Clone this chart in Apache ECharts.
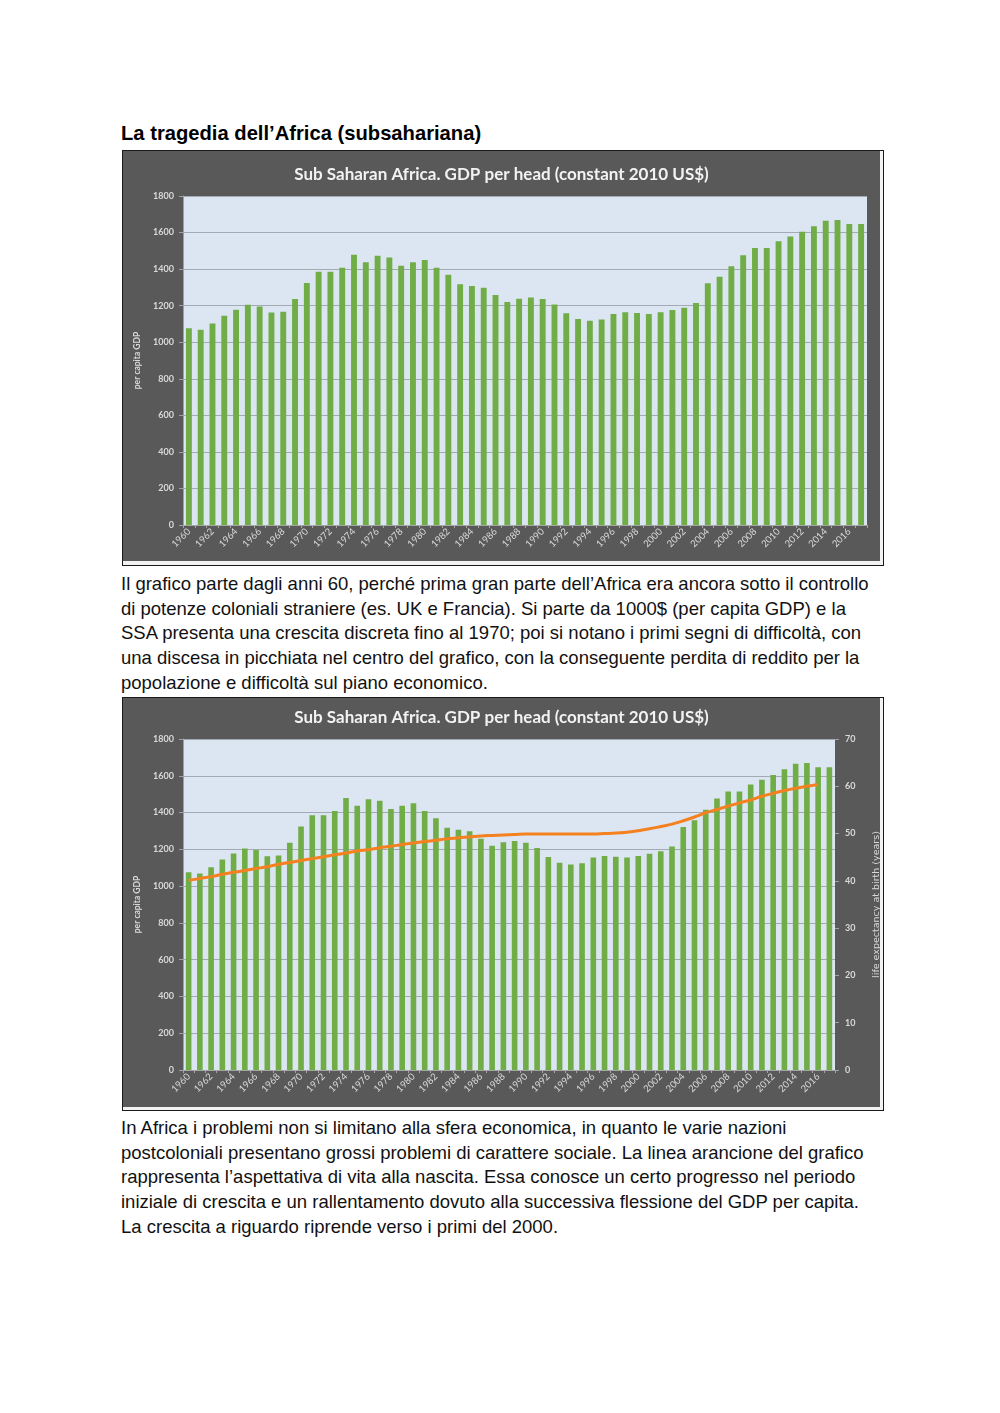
<!DOCTYPE html>
<html>
<head>
<meta charset="utf-8">
<script src="https://cdn.jsdelivr.net/npm/echarts/dist/echarts.min.js"></script>
<style>
  html, body { margin: 0; padding: 0; background: #ffffff; }
  body { width: 1000px; height: 1413px; position: relative; overflow: hidden; }
  .h { position: absolute; left: 121px; top: 121px; font-family: "Liberation Sans", Arial, sans-serif; font-weight: bold; font-size: 20.2px; line-height: 24px; color: #000; white-space: nowrap; }
  .p { position: absolute; left: 121px; font-family: "Liberation Sans", Arial, sans-serif; font-size: 18.5px; line-height: 24.7px; color: #111; white-space: nowrap; }
  .frame { position: absolute; left: 122px; width: 760px; border: 1px solid #1a1a1a; background: #f2f2f2; }
  .chart { position: absolute; left: 0; top: 0; background: #595959; }
</style>
</head>
<body>
<div class="h">La tragedia dell’Africa (subsahariana)</div>
<div class="frame" style="top:150px;height:414px;"><div id="c1" class="chart" style="width:757px;height:410px;"></div></div>
<div class="p" style="top:572px;">Il grafico parte dagli anni 60, perché prima gran parte dell’Africa era ancora sotto il controllo<br>di potenze coloniali straniere (es. UK e Francia). Si parte da 1000$ (per capita GDP) e la<br>SSA presenta una crescita discreta fino al 1970; poi si notano i primi segni di difficoltà, con<br>una discesa in picchiata nel centro del grafico, con la conseguente perdita di reddito per la<br>popolazione e difficoltà sul piano economico.</div>
<div class="frame" style="top:697px;height:412px;"><div id="c2" class="chart" style="width:757px;height:409px;"></div></div>
<div class="p" style="top:1116px;">In Africa i problemi non si limitano alla sfera economica, in quanto le varie nazioni<br>postcoloniali presentano grossi problemi di carattere sociale. La linea arancione del grafico<br>rappresenta l’aspettativa di vita alla nascita. Essa conosce un certo progresso nel periodo<br>iniziale di crescita e un rallentamento dovuto alla successiva flessione del GDP per capita.<br>La crescita a riguardo riprende verso i primi del 2000.</div>
<script>
const years = ["1960","1961","1962","1963","1964","1965","1966","1967","1968","1969",
  "1970","1971","1972","1973","1974","1975","1976","1977","1978","1979",
  "1980","1981","1982","1983","1984","1985","1986","1987","1988","1989",
  "1990","1991","1992","1993","1994","1995","1996","1997","1998","1999",
  "2000","2001","2002","2003","2004","2005","2006","2007","2008","2009",
  "2010","2011","2012","2013","2014","2015","2016","2017"];
const gdpPerHead = [1076,1068,1103,1145,1178,1205,1196,1163,1167,1236,
  1324,1386,1386,1408,1479,1437,1473,1464,1419,1437,
  1450,1408,1369,1317,1307,1298,1258,1220,1238,1245,
  1236,1207,1158,1127,1118,1125,1155,1164,1160,1155,
  1164,1176,1189,1215,1322,1358,1415,1476,1515,1515,
  1553,1578,1604,1635,1665,1669,1647,1647];
const lifeExpectancy = [40.1,40.5,40.9,41.4,41.8,42.2,42.6,43.0,43.5,43.9,
  44.3,44.7,45.1,45.5,45.9,46.3,46.6,47.0,47.3,47.7,
  48.0,48.3,48.6,48.9,49.1,49.3,49.5,49.6,49.7,49.8,
  49.9,49.9,49.9,49.9,49.9,49.9,49.9,50.0,50.1,50.3,
  50.6,51.0,51.5,52.0,52.7,53.5,54.4,55.1,55.8,56.5,
  57.1,57.9,58.5,59.1,59.6,60.0,60.4,null];
const chartTitle = "Sub Saharan Africa. GDP per head (constant 2010 US$)";
const leftAxisName = "per capita GDP";
const rightAxisName = "life expectancy at birth (years)";

const FONT = "Lato, 'Open Sans', sans-serif";
const LABEL = '#d9d9d9';
const GRIDLINE = '#a3aab4';
const plain = v => String(v);

function baseOption(withLine) {
  const yAxes = [{
    type: 'value', min: 0, max: 1800, interval: 200,
    name: leftAxisName, nameLocation: 'middle', nameRotate: 90, nameGap: 41,
    nameTextStyle: { color: LABEL, fontFamily: FONT, fontSize: 8.5, fontWeight: 'bold' },
    axisLabel: { color: LABEL, fontFamily: FONT, fontSize: 9, fontWeight: 'bold', margin: 9, formatter: plain },
    axisLine: { show: true, lineStyle: { color: '#9aa1aa', width: 1 } },
    axisTick: { show: true, length: 4, lineStyle: { color: '#9aa1aa' } },
    splitLine: { show: true, lineStyle: { color: GRIDLINE, width: 1 } }
  }];
  if (withLine) {
    yAxes.push({
      type: 'value', min: 0, max: 70, interval: 10, position: 'right',
      name: rightAxisName, nameLocation: 'middle', nameRotate: 90, nameGap: 37,
      nameTextStyle: { color: LABEL, fontFamily: "'DejaVu Sans', sans-serif", fontSize: 9.5 },
      axisLabel: { color: LABEL, fontFamily: FONT, fontSize: 9, fontWeight: 'bold', margin: 10, formatter: plain },
      axisLine: { show: false },
      axisTick: { show: true, length: 4, lineStyle: { color: '#9aa1aa' } },
      splitLine: { show: false }
    });
  }
  const series = [{
    type: 'bar', data: gdpPerHead, barWidth: '50%',
    itemStyle: { color: '#70ad47' }, silent: true, animation: false
  }];
  if (withLine) {
    series.push({
      type: 'line', yAxisIndex: 1, data: lifeExpectancy, smooth: 0.4,
      showSymbol: false, symbol: 'none', connectNulls: false,
      lineStyle: { color: '#f5801f', width: 3 }, silent: true, animation: false
    });
  }
  return {
    backgroundColor: '#595959',
    animation: false,
    title: {
      text: chartTitle, left: 'center', top: withLine ? 6 : 10,
      textStyle: { color: '#f2f2f2', fontFamily: FONT, fontSize: 17, fontWeight: 'bold' }
    },
    grid: withLine
      ? { left: 60, right: 45, top: 41, bottom: 37, show: true, backgroundColor: '#dce6f2', borderWidth: 0, containLabel: false, outerBoundsMode: 'none' }
      : { left: 60, right: 13, top: 45, bottom: 36, show: true, backgroundColor: '#dce6f2', borderWidth: 0, containLabel: false, outerBoundsMode: 'none' },
    xAxis: {
      type: 'category', data: years, boundaryGap: true,
      axisLabel: { interval: 1, rotate: 45, color: LABEL, fontFamily: FONT, fontSize: 9.5, margin: 5 },
      axisLine: { show: true, lineStyle: { color: '#a6a6a6', width: 1 } },
      axisTick: { show: true, length: 3, interval: 0, lineStyle: { color: '#a6a6a6' } },
      splitLine: { show: false }
    },
    yAxis: yAxes,
    series: series
  };
}

const c1 = echarts.init(document.getElementById('c1'), null, { renderer: 'canvas' });
c1.setOption(baseOption(false));
const c2 = echarts.init(document.getElementById('c2'), null, { renderer: 'canvas' });
c2.setOption(baseOption(true));
</script>
</body>
</html>
